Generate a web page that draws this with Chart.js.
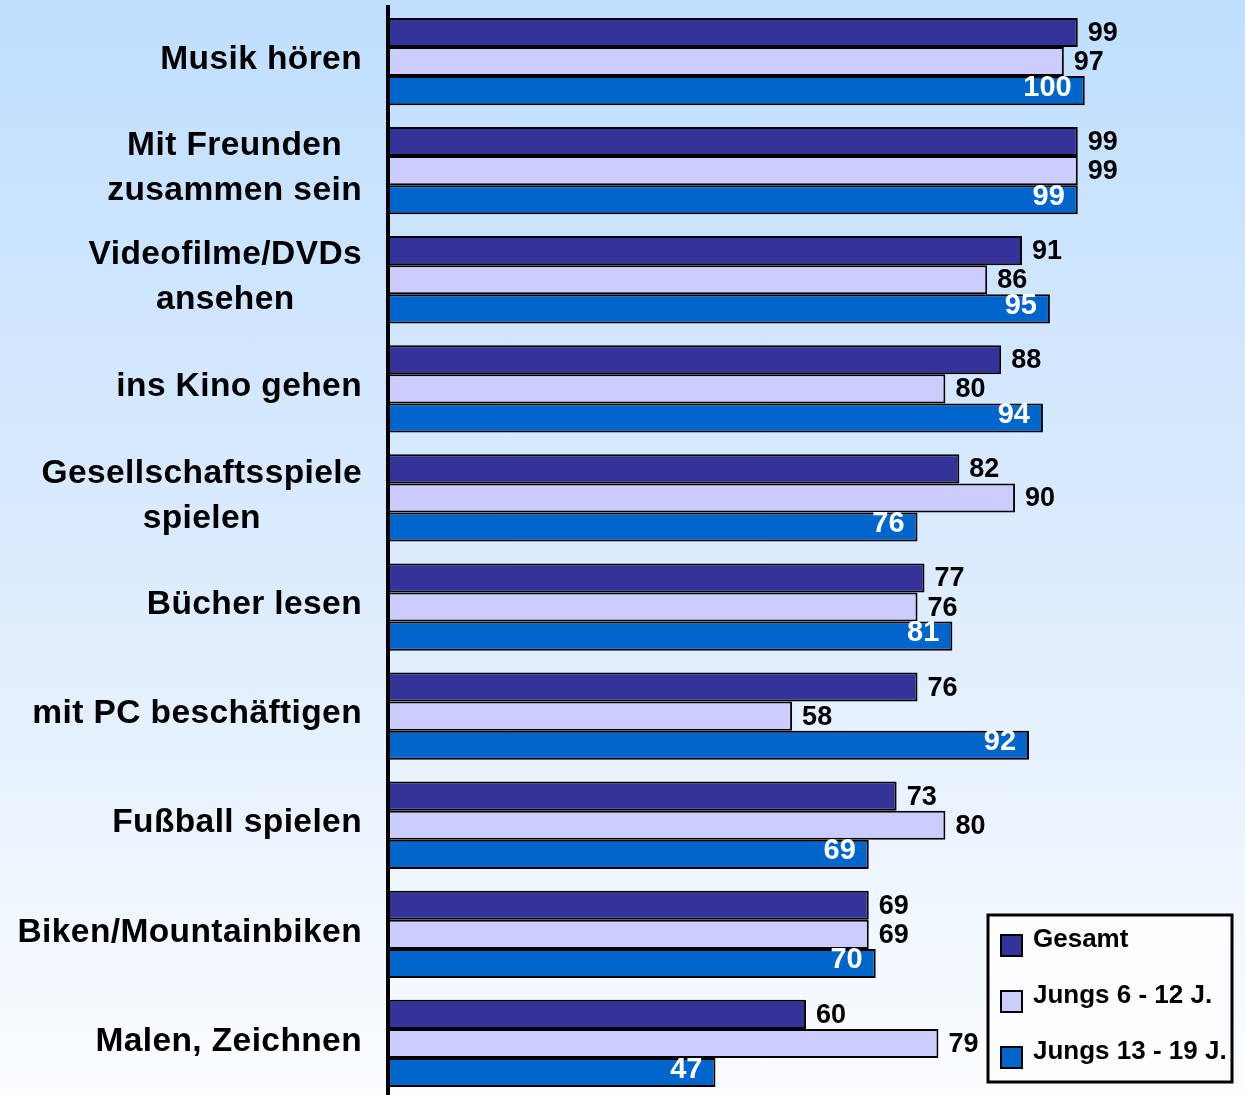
<!DOCTYPE html>
<html>
<head>
<meta charset="utf-8">
<script src="https://cdn.jsdelivr.net/npm/chart.js@4/dist/chart.umd.min.js"></script>
<style>
  html, body { margin: 0; overflow: hidden; }
  #wrap {
    width: 1245px; height: 1098px;
    background: linear-gradient(to bottom, #bfdfff 0%, #dbebfd 50%, #fbfdff 100%);
  }
</style>
</head>
<body>
<div id="wrap"><canvas id="Chart"></canvas></div>
<script>
// categories (multi-line labels as arrays)
const categories = [
  'Musik hören',
  ['Mit Freunden', 'zusammen sein'],
  ['Videofilme/DVDs', 'ansehen'],
  'ins Kino gehen',
  ['Gesellschaftsspiele', 'spielen'],
  'Bücher lesen',
  'mit PC beschäftigen',
  'Fußball spielen',
  'Biken/Mountainbiken',
  'Malen, Zeichnen'
];
const gesamt    = [99, 99, 91, 88, 82, 77, 76, 73, 69, 60];
const jungs6_12 = [97, 99, 86, 80, 90, 76, 58, 80, 69, 79];
const jungs13_19 = [100, 99, 95, 94, 76, 81, 92, 69, 70, 47];
const seriesNames = ['Gesamt', 'Jungs 6 - 12 J.', 'Jungs 13 - 19 J.'];
const seriesColors = ['#333399', '#ccccff', '#0066cc'];

const FONT = '"Liberation Sans", Arial, sans-serif';

// category labels: lines centred on each other, block right-aligned
const catLabels = {
  id: 'catLabels',
  afterDraw(chart) {
    const ctx = chart.ctx;
    const yScale = chart.scales.y;
    ctx.save();
    ctx.font = 'bold 33.5px ' + FONT;
    ctx.letterSpacing = '0.4px';
    ctx.fillStyle = '#000';
    ctx.textAlign = 'center';
    ctx.textBaseline = 'middle';
    categories.forEach(function (lab, i) {
      const lines = Array.isArray(lab) ? lab : [lab];
      let maxW = 0;
      lines.forEach(function (l) { maxW = Math.max(maxW, ctx.measureText(l).width); });
      const cx = 362 - maxW / 2;
      const cy = yScale.getPixelForTick(i) - 2;
      lines.forEach(function (l, k) {
        ctx.fillText(l, cx, cy - (lines.length - 1) * 45 / 2 + k * 45);
      });
    });
    ctx.restore();
  }
};

// value labels at bar ends
const valueLabels = {
  id: 'valueLabels',
  afterDatasetsDraw(chart) {
    const ctx = chart.ctx;
    ctx.save();
    ctx.textBaseline = 'middle';
    chart.data.datasets.forEach(function (ds, di) {
      const meta = chart.getDatasetMeta(di);
      meta.data.forEach(function (bar, i) {
        const v = ds.data[i];
        if (di < 2) {
          ctx.font = 'bold 27px ' + FONT;
          ctx.fillStyle = '#000';
          ctx.textAlign = 'left';
          ctx.fillText(v, bar.x + 10, bar.y + 1);
        } else {
          ctx.font = 'bold 29px ' + FONT;
          ctx.fillStyle = '#fff';
          ctx.textAlign = 'right';
          ctx.fillText(v, bar.x - 13, bar.y - 3);
        }
      });
    });
    ctx.restore();
  }
};

// legend box bottom right
const legendBox = {
  id: 'legendBox',
  afterDraw(chart) {
    const ctx = chart.ctx;
    ctx.save();
    ctx.fillStyle = '#fbfdff';
    ctx.fillRect(988, 915, 244, 167);
    ctx.lineWidth = 3;
    ctx.strokeStyle = '#000';
    ctx.strokeRect(988, 915, 244, 167);
    ctx.font = 'bold 26px ' + FONT;
    ctx.textAlign = 'left';
    ctx.textBaseline = 'middle';
    seriesNames.forEach(function (name, i) {
      const ty = 940 + i * 56;
      ctx.fillStyle = seriesColors[i];
      ctx.fillRect(1001, ty - 5, 21, 21);
      ctx.lineWidth = 2;
      ctx.strokeStyle = '#000';
      ctx.strokeRect(1001, ty - 5, 21, 21);
      ctx.fillStyle = '#000';
      ctx.fillText(name, 1033, ty);
    });
    ctx.restore();
  }
};

const ctx = document.getElementById('Chart').getContext('2d');
const myChart = new Chart(ctx, {
  type: 'bar',
  data: {
    labels: categories,
    datasets: [
      { label: seriesNames[0], data: gesamt, backgroundColor: seriesColors[0] },
      { label: seriesNames[1], data: jungs6_12, backgroundColor: seriesColors[1] },
      { label: seriesNames[2], data: jungs13_19, backgroundColor: seriesColors[2] }
    ]
  },
  options: {
    indexAxis: 'y',
    responsive: true,
    maintainAspectRatio: false,
    animation: false,
    layout: { padding: { left: 388, top: 7, right: 0, bottom: 0 } },
    datasets: {
      bar: {
        barPercentage: 1,
        categoryPercentage: 0.8,
        borderColor: '#000',
        borderWidth: 2
      }
    },
    scales: {
      x: { display: false, min: 0, max: 123 },
      y: {
        ticks: { display: false },
        grid: { display: false, drawTicks: false },
        border: { display: true, color: '#000', width: 4, z: 1 }
      }
    },
    plugins: {
      legend: { display: false },
      tooltip: { enabled: false }
    }
  },
  plugins: [catLabels, valueLabels, legendBox]
});
</script>
</body>
</html>
